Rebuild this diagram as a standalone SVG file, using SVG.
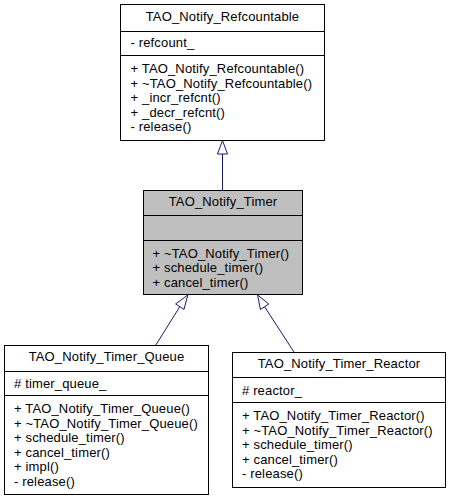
<svg xmlns="http://www.w3.org/2000/svg" width="449" height="501" viewBox="0 0 449 501">
<style>
text{font-family:"Liberation Sans",Arial,sans-serif;font-size:13px;fill:#000;letter-spacing:0.15px}
.t{text-anchor:middle}
.box{fill:#fff;stroke:#000;stroke-width:1}
.cur{fill:#bfbfbf;stroke:#000;stroke-width:1}
.sep{stroke:#000;stroke-width:1;fill:none}
.edge{stroke:#191970;stroke-width:1;fill:none}
.head{stroke:#191970;stroke-width:1;fill:#fff}
</style>
<rect width="449" height="501" fill="#fff"/>
<g id="edges">
<line class="edge" x1="222.5" y1="190.5" x2="222.5" y2="154"/>
<polygon class="head" points="222.5,140.5 227.5,154 217.5,154"/>
<line class="edge" x1="155.5" y1="345.5" x2="179.8" y2="306.7"/>
<polygon class="head" points="187.8,295 184,309.4 175.6,303.9"/>
<line class="edge" x1="294.3" y1="352.5" x2="264.6" y2="306.8"/>
<polygon class="head" points="257.6,295 268.8,304 260.4,309.5"/>
</g>
<g id="refcountable">
<rect class="box" x="120.5" y="4.5" width="204" height="136"/>
<line class="sep" x1="120.5" y1="31.5" x2="324.5" y2="31.5"/>
<line class="sep" x1="120.5" y1="55.5" x2="324.5" y2="55.5"/>
<text class="t" x="222.5" y="21">TAO_Notify_Refcountable</text>
<text x="130.5" y="47">- refcount_</text>
<text x="130.5" y="73">+ TAO_Notify_Refcountable()</text>
<text x="130.5" y="87.5">+ ~TAO_Notify_Refcountable()</text>
<text x="130.5" y="102">+ _incr_refcnt()</text>
<text x="130.5" y="116.5">+ _decr_refcnt()</text>
<text x="130.5" y="131">- release()</text>
</g>
<g id="timer">
<rect class="cur" x="143.5" y="190.5" width="159" height="104"/>
<line class="sep" x1="143.5" y1="215.5" x2="302.5" y2="215.5"/>
<line class="sep" x1="143.5" y1="240.5" x2="302.5" y2="240.5"/>
<text class="t" x="223" y="206">TAO_Notify_Timer</text>
<text x="152.5" y="257.5">+ ~TAO_Notify_Timer()</text>
<text x="152.5" y="272">+ schedule_timer()</text>
<text x="152.5" y="286.5">+ cancel_timer()</text>
</g>
<g id="timer_queue">
<rect class="box" x="4.5" y="345.5" width="204" height="149"/>
<line class="sep" x1="4.5" y1="371.5" x2="208.5" y2="371.5"/>
<line class="sep" x1="4.5" y1="395.5" x2="208.5" y2="395.5"/>
<text class="t" x="106.5" y="361">TAO_Notify_Timer_Queue</text>
<text x="14" y="387.5"># timer_queue_</text>
<text x="14" y="413">+ TAO_Notify_Timer_Queue()</text>
<text x="14" y="427.5">+ ~TAO_Notify_Timer_Queue()</text>
<text x="14" y="442">+ schedule_timer()</text>
<text x="14" y="456.5">+ cancel_timer()</text>
<text x="14" y="471">+ impl()</text>
<text x="14" y="485.5">- release()</text>
</g>
<g id="timer_reactor">
<rect class="box" x="232.5" y="352.5" width="213" height="135"/>
<line class="sep" x1="232.5" y1="377.5" x2="445.5" y2="377.5"/>
<line class="sep" x1="232.5" y1="402.5" x2="445.5" y2="402.5"/>
<text class="t" x="339" y="368">TAO_Notify_Timer_Reactor</text>
<text x="242" y="394.5"># reactor_</text>
<text x="242" y="420">+ TAO_Notify_Timer_Reactor()</text>
<text x="242" y="434.5">+ ~TAO_Notify_Timer_Reactor()</text>
<text x="242" y="449">+ schedule_timer()</text>
<text x="242" y="463.5">+ cancel_timer()</text>
<text x="242" y="478">- release()</text>
</g>
</svg>
